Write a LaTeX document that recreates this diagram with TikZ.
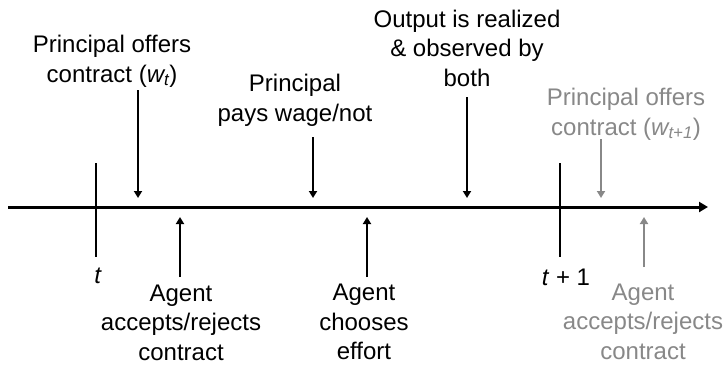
\documentclass[tikz,border=0pt]{standalone}
\usepackage{fontspec}
\setmainfont{Liberation Sans}
\usetikzlibrary{arrows.meta}
\definecolor{lightgr}{RGB}{136,136,136}
\begin{document}
\begin{tikzpicture}[x=1pt,y=-1pt,
  lbl/.style={align=center,inner sep=0pt,anchor=base,font=\fontsize{24}{29.5}\selectfont},
  evarrow/.style={line width=2.8pt,-{Triangle[length=7pt,width=8pt]}},
  tickline/.style={line width=2.4pt},
  axisline/.style={line width=3pt,-{Triangle[length=9pt,width=10pt]}},
  faded/.style={lightgr}]
\useasboundingbox (0,0) rectangle (727,364);
% axis
\coordinate (a0) at (8,207);
\coordinate (a1) at (708,207);
\draw[axisline] (a0) -- (a1);
% ticks
\coordinate (t0top) at (96,163); \coordinate (t0bot) at (96,257);
\coordinate (t1top) at (560,163); \coordinate (t1bot) at (560,257);
\draw[tickline] (t0top) -- (t0bot);
\draw[tickline] (t1top) -- (t1bot);
% labels (anchor = baseline of last line)
\node[lbl] (offer) at (112,82) {Principal offers\\contract (\textit{w\textsubscript{t}})};
\node[lbl] (pay) at (295,121) {Principal\\pays wage/not};
\node[lbl] (output) at (467,86) {Output is realized\\\& observed by\\both};
\node[lbl,faded] (offer2) at (626,135) {Principal offers\\contract (\textit{w\textsubscript{t+1}})};
\node[lbl] (tlab) at (98,283) {\textit{t}};
\node[lbl] (accept) at (181,360) {Agent\\accepts/rejects\\contract};
\node[lbl] (effort) at (364,359.5) {Agent\\chooses\\effort};
\node[lbl] (t1lab) at (566,285) {\textit{t} + 1};
\node[lbl,faded] (accept2) at (643,359) {Agent\\accepts/rejects\\contract};
% arrow ends
\coordinate (o1) at (138,90);  \coordinate (o2) at (138,198);
\coordinate (p1) at (313,137); \coordinate (p2) at (313,198);
\coordinate (q1) at (467,97);  \coordinate (q2) at (467,198);
\coordinate (r1) at (601,139); \coordinate (r2) at (601,198);
\coordinate (u1) at (180,277); \coordinate (u2) at (180,217);
\coordinate (v1) at (367,277); \coordinate (v2) at (367,217);
\coordinate (w1) at (644,267); \coordinate (w2) at (644,217);
\draw[evarrow] (o1) -- (o2);
\draw[evarrow] (p1) -- (p2);
\draw[evarrow] (q1) -- (q2);
\draw[evarrow,faded] (r1) -- (r2);
\draw[evarrow] (u1) -- (u2);
\draw[evarrow] (v1) -- (v2);
\draw[evarrow,faded] (w1) -- (w2);
\end{tikzpicture}
\end{document}
